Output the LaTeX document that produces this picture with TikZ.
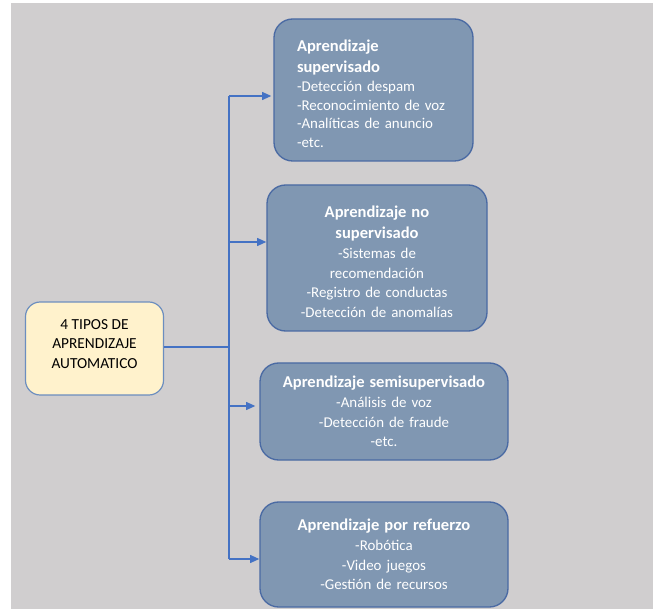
\documentclass[tikz,border=0pt]{standalone}
\usepackage{fontspec}
\setmainfont{Carlito}
\usetikzlibrary{arrows.meta}
\definecolor{bggray}{HTML}{D0CECF}
\definecolor{boxfill}{HTML}{8097B2}
\definecolor{boxline}{HTML}{4A6AA3}
\definecolor{rootfill}{HTML}{FFF2CC}
\definecolor{rootline}{HTML}{6C8EBF}
\definecolor{conn}{HTML}{4472C4}
\tikzset{
  catbox/.style={draw=boxline, line width=1pt, fill=boxfill, rounded corners=14pt,
    text=white, inner sep=0pt, font=\fontsize{11.2}{14.8}\selectfont},
  rootbox/.style={draw=rootline, line width=0.9pt, fill=rootfill, rounded corners=11pt,
    text=black, align=center, inner sep=0pt, font=\fontsize{11.5}{14.6}\selectfont},
  conline/.style={draw=conn, line width=1.1pt},
  arr/.style={conline, -{Triangle[length=7pt,width=6pt]}}
}
\newcommand{\ttlfont}{\fontsize{12.4}{15.5}\selectfont\bfseries}
\begin{document}
\begin{tikzpicture}[x=0.75pt,y=-0.75pt]
\useasboundingbox (0,0) rectangle (653,609);
\fill[bggray] (11,3) rectangle (653,609);

\node[rootbox, minimum width={138*0.75pt}, minimum height={93*0.75pt}] (root) at (94.5,348.5)
  {4 TIPOS DE\\APRENDIZAJE\\AUTOMATICO\rule[-7pt]{0pt}{0pt}};

\node[catbox, font=\fontsize{11.2}{14.1}\selectfont, minimum width={199*0.75pt}, minimum height={142*0.75pt}, text width={153*0.75pt}, align=left] (b1) at (373.5,90)
  {{\ttlfont\rule{0pt}{14.6pt}Aprendizaje\\supervisado\\}-Detección despam\\-Reconocimiento de voz\\-Analíticas de anuncio\\-etc.};

\node[catbox, minimum width={220*0.75pt}, minimum height={146*0.75pt}, text width={205*0.75pt}, align=center] (b2) at (377,258)
  {{\ttlfont\rule{0pt}{14.6pt}Aprendizaje no\\supervisado\\}-Sistemas de\\recomendación\\-Registro de conductas\\-Detección de anomalías};

\node[catbox, minimum width={248*0.75pt}, minimum height={97*0.75pt}, text width={235*0.75pt}, align=center] (b3) at (384,411.5)
  {{\ttlfont Aprendizaje semisupervisado\\}-Análisis de voz\\-Detección de fraude\\-etc.};

\node[catbox, minimum width={248*0.75pt}, minimum height={105*0.75pt}, text width={235*0.75pt}, align=center] (b4) at (384,554.5)
  {{\ttlfont Aprendizaje por refuerzo\\}-Robótica\\-Video juegos\\-Gestión de recursos};

\coordinate (j) at (229,347);
\coordinate (t1) at (229,96);
\coordinate (t2) at (229,242);
\coordinate (t3) at (229,406);
\coordinate (t4) at (229,559);

\draw[conline] (root.east |- j) -- (j);
\draw[conline] (t1) -- (t4);
\draw[arr] (t1) -- ([xshift=-1.5pt]t1 -| b1.west);
\draw[arr] (t2) -- (t2 -| b2.west);
\draw[arr] (t3) -- ([xshift=-3pt]t3 -| b3.west);
\draw[arr] (t4) -- (t4 -| b4.west);
\end{tikzpicture}
\end{document}
